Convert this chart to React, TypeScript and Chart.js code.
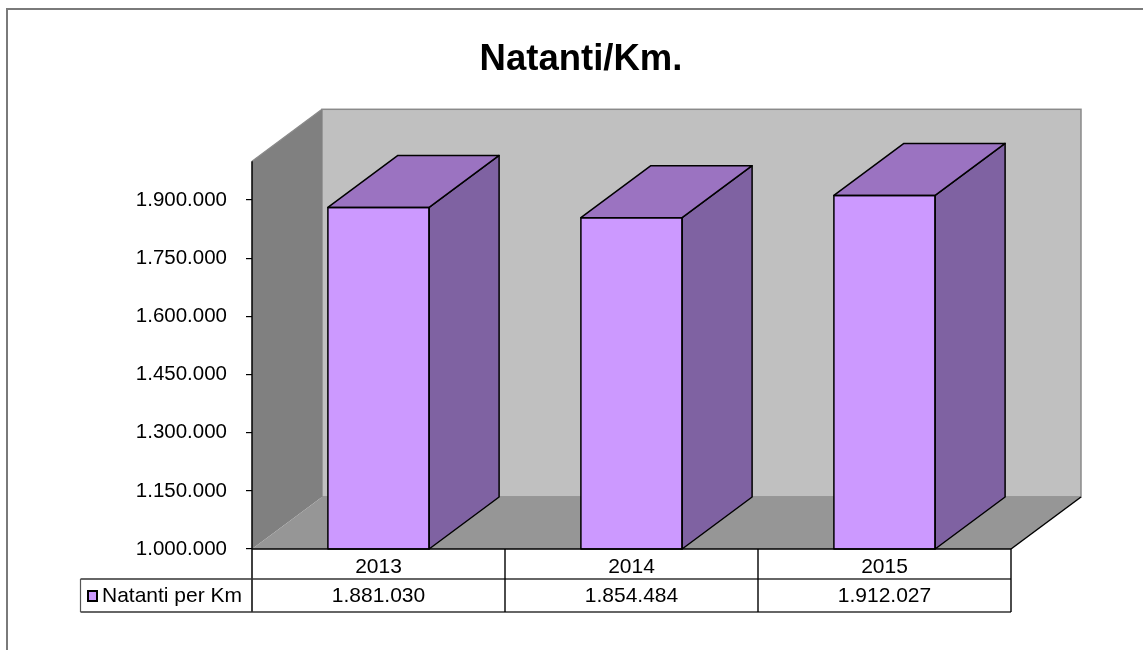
import React, { useEffect, useRef } from 'react';
import { Chart, registerables } from 'chart.js';

Chart.register(...registerables);

const titleText = 'Natanti/Km.';
const categories = ['2013', '2014', '2015'];
const seriesName = 'Natanti per Km';
const seriesValues = [1881030, 1854484, 1912027];
const yTickValues = [1000000, 1150000, 1300000, 1450000, 1600000, 1750000, 1900000];
const yMin = 1000000;
const yMax = 2000000;

const FONT = "Arial, 'Liberation Sans', Helvetica, sans-serif";
const LABEL_SIZE = 21;
const DX = 70;
const DY = -52;
const FRONT = '#CC99FF';
const TOP = '#9B73C1';
const SIDE = '#7F62A2';

const fmt = (v: number) => String(Math.round(v)).replace(/\B(?=(\d{3})+(?!\d))/g, '.');

function poly(ctx: CanvasRenderingContext2D, pts: number[][], fill: string | null, stroke?: string, lw?: number) {
  ctx.beginPath();
  ctx.moveTo(pts[0][0], pts[0][1]);
  for (let i = 1; i < pts.length; i++) ctx.lineTo(pts[i][0], pts[i][1]);
  ctx.closePath();
  if (fill) {
    ctx.fillStyle = fill;
    ctx.fill();
  }
  if (stroke) {
    ctx.strokeStyle = stroke;
    ctx.lineWidth = lw || 1;
    ctx.lineJoin = 'round';
    ctx.stroke();
  }
}

function line(ctx: CanvasRenderingContext2D, x1: number, y1: number, x2: number, y2: number, color: string, lw: number) {
  ctx.beginPath();
  ctx.moveTo(x1, y1);
  ctx.lineTo(x2, y2);
  ctx.strokeStyle = color;
  ctx.lineWidth = lw;
  ctx.stroke();
}

const threeDPlugin = {
  id: 'threeD',
  beforeDraw(chart: any) {
    const ctx: CanvasRenderingContext2D = chart.ctx;
    ctx.save();
    ctx.fillStyle = '#ffffff';
    ctx.fillRect(0, 0, chart.width, chart.height);
    ctx.beginPath();
    ctx.moveTo(7, chart.height + 5);
    ctx.lineTo(7, 9);
    ctx.lineTo(chart.width + 5, 9);
    ctx.strokeStyle = '#7a7a7a';
    ctx.lineWidth = 2;
    ctx.stroke();
    ctx.restore();
  },
  beforeDatasetsDraw(chart: any) {
    const ctx: CanvasRenderingContext2D = chart.ctx;
    const { left, right, top, bottom } = chart.chartArea;
    ctx.save();
    // back wall
    ctx.fillStyle = '#C0C0C0';
    ctx.fillRect(left + DX, top + DY, right - left, bottom - top);
    ctx.strokeStyle = '#8a8a8a';
    ctx.lineWidth = 1.5;
    ctx.strokeRect(left + DX, top + DY, right - left, bottom - top);
    // left side wall
    poly(ctx, [[left, top], [left + DX, top + DY], [left + DX, bottom + DY], [left, bottom]], '#808080');
    line(ctx, left, top, left + DX, top + DY, '#8a8a8a', 1.2);
    // floor
    poly(ctx, [[left, bottom], [right, bottom], [right + DX, bottom + DY], [left + DX, bottom + DY]], '#969696');
    ctx.restore();
  },
  afterDatasetsDraw(chart: any) {
    const ctx: CanvasRenderingContext2D = chart.ctx;
    const { left, right, top, bottom } = chart.chartArea;
    ctx.save();
    const meta = chart.getDatasetMeta(0);
    meta.data.forEach((bar: any) => {
      const p = bar.getProps(['x', 'y', 'width', 'base'], true);
      const l = p.x - p.width / 2;
      const r = p.x + p.width / 2;
      const t = p.y;
      const b = Math.min(p.base, bottom);
      poly(ctx, [[r, t], [r + DX, t + DY], [r + DX, b + DY], [r, b]], SIDE, '#000', 1.5);
      poly(ctx, [[l, t], [l + DX, t + DY], [r + DX, t + DY], [r, t]], TOP, '#000', 1.5);
      ctx.strokeStyle = '#000';
      ctx.lineWidth = 1.5;
      ctx.strokeRect(l, t, r - l, b - t);
    });
    // floor front and right edges
    line(ctx, left, bottom, right, bottom, '#000', 1.5);
    line(ctx, right, bottom, right + DX, bottom + DY, '#000', 1.5);
    // vertical axis line
    line(ctx, left, top, left, 612, '#000', 1.5);
    ctx.restore();
  },
  afterDraw(chart: any) {
    const ctx: CanvasRenderingContext2D = chart.ctx;
    const { left, right, bottom } = chart.chartArea;
    const n = categories.length;
    const slot = (right - left) / n;
    const rowMid = 579;
    const rowBot = 612;
    const legendLeft = 80.5;
    ctx.save();
    line(ctx, legendLeft, rowMid, right, rowMid, '#333', 1.3);
    line(ctx, legendLeft, rowBot, right, rowBot, '#333', 1.3);
    line(ctx, legendLeft, rowMid, legendLeft, rowBot, '#555', 1.2);
    for (let i = 1; i <= n; i++) {
      const x = left + slot * i;
      line(ctx, x, bottom, x, rowBot, '#000', 1.4);
    }
    ctx.fillStyle = '#000';
    ctx.font = `${LABEL_SIZE}px ${FONT}`;
    ctx.textAlign = 'center';
    ctx.textBaseline = 'middle';
    const xs = chart.scales.x;
    seriesValues.forEach((v, i) => {
      ctx.fillText(fmt(v), xs.getPixelForValue(i), (rowMid + rowBot) / 2 + 1);
    });
    ctx.fillStyle = FRONT;
    ctx.fillRect(88, 591, 9, 10);
    ctx.strokeStyle = '#000';
    ctx.lineWidth = 2;
    ctx.strokeRect(88, 591, 9, 10);
    ctx.fillStyle = '#000';
    ctx.textAlign = 'left';
    ctx.fillText(seriesName, 102, (rowMid + rowBot) / 2 + 1);
    ctx.restore();
  },
};

export default function App() {
  const ref = useRef<HTMLCanvasElement | null>(null);
  useEffect(() => {
    if (!ref.current) return;
    const chart = new Chart(ref.current, {
      type: 'bar',
      data: {
        labels: categories,
        datasets: [
          {
            label: seriesName,
            data: seriesValues,
            backgroundColor: FRONT,
            borderColor: '#000',
            borderWidth: 0,
            barPercentage: 0.4,
            categoryPercentage: 1,
            yAxisID: 'y',
          },
        ],
      },
      options: {
        responsive: false,
        animation: false,
        layout: { padding: { left: 19, right: 0, top: 0, bottom: 0 } },
        plugins: {
          legend: { display: false },
          tooltip: { enabled: false },
          title: {
            display: true,
            text: titleText,
            color: '#000',
            font: { family: FONT, size: 36.5, weight: 'bold' },
            padding: { top: 38.5, bottom: 79 },
          },
        },
        scales: {
          x: {
            type: 'category',
            grid: { display: false, drawTicks: false },
            border: { display: false },
            ticks: {
              color: '#000',
              font: { family: FONT, size: LABEL_SIZE },
              padding: 6,
              maxRotation: 0,
            },
            afterFit: (s: any) => {
              s.height = 101;
            },
          },
          y: {
            type: 'linear',
            position: 'left',
            min: yMin,
            max: yMax,
            grid: { drawOnChartArea: false, drawTicks: true, tickLength: 6, color: '#000', lineWidth: 1.2 },
            border: { display: false },
            afterBuildTicks: (s: any) => {
              s.ticks = yTickValues.map((v) => ({ value: v }));
            },
            ticks: {
              color: '#000',
              font: { family: FONT, size: 20.5 },
              padding: 19,
              autoSkip: false,
              callback: (v: any) => fmt(Number(v)),
            },
            afterFit: (s: any) => {
              s.width = 233;
            },
          },
          y2: {
            type: 'linear',
            position: 'right',
            display: true,
            grid: { display: false, drawTicks: false },
            border: { display: false },
            ticks: { display: false },
            afterFit: (s: any) => {
              s.width = 132;
            },
          },
        },
      },
      plugins: [threeDPlugin],
    } as any);
    return () => chart.destroy();
  }, []);
  return (
    <div style={{ position: 'absolute', left: 0, top: 0, width: 1143, height: 650 }}>
      <canvas ref={ref} width={1143} height={650} style={{ display: 'block' }} />
    </div>
  );
}
